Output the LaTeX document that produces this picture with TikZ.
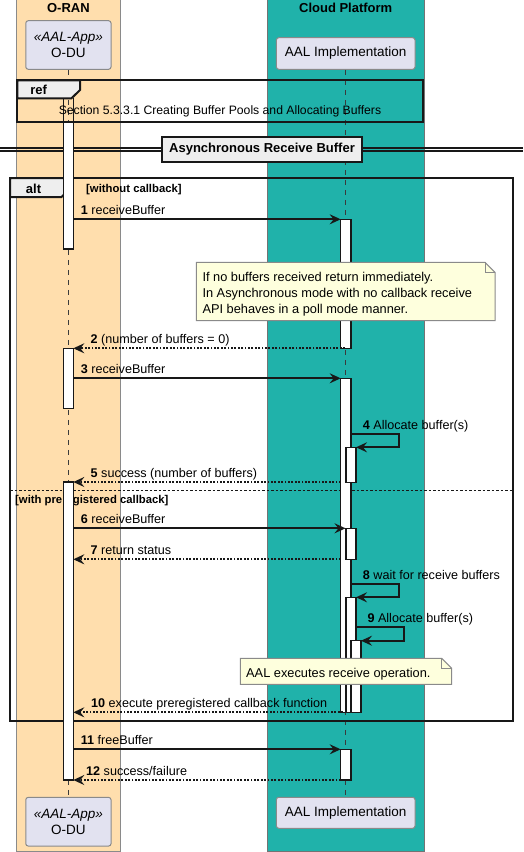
\documentclass[tikz,border=0pt]{standalone}
\usepackage{fontspec}
\setmainfont{Liberation Sans}
\usetikzlibrary{arrows.meta}
\definecolor{peach}{HTML}{FFDEAD}
\definecolor{seagreen}{HTML}{20B2AA}
\definecolor{partfill}{HTML}{E2E2F0}
\definecolor{notefill}{HTML}{FEFFDD}
\definecolor{tabfill}{HTML}{EEEEEE}
\definecolor{ink}{HTML}{181818}
\definecolor{edge}{HTML}{8A8A8A}
\tikzset{
  msg/.style={draw=ink, line width=1.9pt, -{Stealth[length=11pt,width=10pt,inset=4pt]}},
  ret/.style={msg, dash pattern=on 1.8pt off 1.6pt},
  lbl/.style={anchor=base west, inner sep=0pt, font=\fontsize{12.6}{15}\selectfont},
  bar/.style={draw=ink, fill=white, line width=1.3pt},
  life/.style={draw=ink!85, line width=0.8pt, dash pattern=on 5pt off 5pt},
  grouptitle/.style={anchor=base, inner sep=0pt, font=\fontsize{13}{15}\selectfont\bfseries},
  part/.style={draw=edge, fill=partfill, line width=1pt, rounded corners=2.5pt, align=center, inner sep=0pt, font=\fontsize{13.5}{15.5}\selectfont},
  notebox/.style={draw=edge, fill=notefill, line width=1pt},
  notetext/.style={anchor=base west, inner sep=0pt, font=\fontsize{12.8}{16.2}\selectfont},
  frame/.style={draw=ink, line width=2pt},
  tab/.style={draw=ink, fill=tabfill, line width=2pt},
  tabtext/.style={anchor=base, inner sep=0pt, font=\fontsize{13}{15}\selectfont\bfseries},
  guard/.style={anchor=base west, inner sep=0pt, font=\fontsize{11.3}{13}\selectfont\bfseries},
}
\newcommand{\mlabel}[2]{\textbf{#1} #2}
\begin{document}
\begin{tikzpicture}[x=1pt,y=-1pt]
\useasboundingbox (0,0) rectangle (523,852);
% ---- group boxes
\fill[peach] (16.7,0) rectangle (120,851.5);
\draw[edge, line width=1pt] (16.7,-2) -- (16.7,851.5) -- (120,851.5) -- (120,-2);
\fill[seagreen] (267,0) rectangle (424,851.5);
\draw[black!55, line width=1pt] (267,-2) -- (267,851.5) -- (424,851.5) -- (424,-2);
\node[grouptitle] (oran) at (68.4,12.7) {O-RAN};
\node[grouptitle] (cloud) at (345.7,12.7) {Cloud Platform};
% ---- participants
\node[part, minimum width=85.3pt, minimum height=48.6pt] (odu) at (68.4,45) {\textit{«AAL-App»}\\O-DU};
\node[part, minimum width=138.7pt, minimum height=31.6pt] (aal) at (345.7,53.5) {AAL Implementation};
\node[part, minimum width=85.3pt, minimum height=48.7pt] (odub) at (68.4,821.7) {\textit{«AAL-App»}\\O-DU};
\node[part, minimum width=138.7pt, minimum height=31pt] (aalb) at (345.7,812.8) {AAL Implementation};
% ---- lifelines
\draw[life] (odu.south) -- (odub.north);
\draw[life] (aal.south) -- (aalb.north);
% ---- ref frame
\draw[ink, line width=1.3pt] (63.3,98) -- (63.3,122.3) (73.3,98) -- (73.3,122.3);
\draw[frame] (17.3,80.3) rectangle (423.3,122.3);
\draw[tab] (17.3,80.3) -- (80,80.3) -- (80,90) -- (71.5,98.3) -- (17.3,98.3) -- cycle;
\node[tabtext] (reftag) at (38.7,94) {ref};
\node[anchor=base, inner sep=0pt, font=\fontsize{12.2}{15}\selectfont] (reftext) at (220,114.5) {Section 5.3.3.1 Creating Buffer Pools and Allocating Buffers};
% ---- divider
\draw[ink, line width=1.1pt] (0,148) -- (523,148) (0,151) -- (523,151);
\node[draw=ink, fill=tabfill, line width=2pt, minimum width=199.4pt, minimum height=24.4pt, inner sep=0pt, font=\fontsize{13}{15}\selectfont\bfseries] (divider) at (262,149.5) {Asynchronous Receive Buffer};
% ---- alt frame
\draw[frame] (10,178) rectangle (513.3,720.7);
\draw[tab] (10,178) -- (71.7,178) -- (71.7,187) -- (61.5,197) -- (10,197) -- cycle;
\node[tabtext] (alttag) at (33.5,193) {alt};
\node[guard] (g1) at (86,192.5) {[without callback]};
\draw[ink, line width=1.1pt, dash pattern=on 2.5pt off 2pt] (10,490.7) -- (513.3,490.7);
\node[guard] (g2) at (15,503) {[with preregistered callback]};
% ---- activation bars O-DU
\draw[bar] (63.3,122.3) rectangle (73.3,249);
\draw[bar] (63.3,348.3) rectangle (73.3,408.3);
\draw[bar] (63.3,482) rectangle (73.3,780);
% ---- activation bars AAL
\draw[bar] (340.7,219.3) rectangle (351,348.3);
\draw[bar] (340.7,378.3) rectangle (351,712.3);
\draw[bar] (346,447.3) rectangle (356,482.3);
\draw[bar] (346,528.3) rectangle (356,559.3);
\draw[bar] (346,597.3) rectangle (356,712.3);
\draw[bar] (351,640.7) rectangle (361,712.3);
\draw[bar] (340.7,749.3) rectangle (351,780);
% ---- notes
\draw[notebox] (196.3,262.3) -- (485,262.3) -- (495,272.3) -- (495,320.7) -- (196.3,320.7) -- cycle;
\draw[edge, line width=1pt] (485,262.3) -- (485,272.3) -- (495,272.3);
\node[notetext] (note1a) at (202.3,281.5) {If no buffers received return immediately.};
\node[notetext] (note1b) at (202.3,297.5) {In Asynchronous mode with no callback receive};
\node[notetext] (note1c) at (202.3,313.7) {API behaves in a poll mode manner.};
\draw[notebox] (240.3,658.3) -- (441.7,658.3) -- (451.7,668.3) -- (451.7,684.3) -- (240.3,684.3) -- cycle;
\draw[edge, line width=1pt] (441.7,658.3) -- (441.7,668.3) -- (451.7,668.3);
\node[notetext] (note2) at (246,677.3) {AAL executes receive operation.};
% ---- messages
\coordinate (m1s) at (73.3,219.3);  \coordinate (m1e) at (340.7,219.3);
\coordinate (m2s) at (345,348.3);   \coordinate (m2e) at (73.3,348.3);
\coordinate (m3s) at (73.3,378.3);  \coordinate (m3e) at (340.7,378.3);
\coordinate (m4s) at (351,434);     \coordinate (m4e) at (356,447.3);
\coordinate (m5s) at (340.7,482);   \coordinate (m5e) at (73.3,482);
\coordinate (m6s) at (73.3,528.3);  \coordinate (m6e) at (345.5,528.3);
\coordinate (m7s) at (340.7,559.3); \coordinate (m7e) at (73.3,559.3);
\coordinate (m8s) at (351,584.3);   \coordinate (m8e) at (356,597.3);
\coordinate (m9s) at (356,627.3);   \coordinate (m9e) at (361,640.7);
\coordinate (m10s) at (343,712.3);  \coordinate (m10e) at (73.3,712.3);
\coordinate (m11s) at (73.3,749.3); \coordinate (m11e) at (340.7,749.3);
\coordinate (m12s) at (340.7,780);  \coordinate (m12e) at (73.3,780);
\draw[msg] (m1s) -- (m1e);
\draw[ret] (m2s) -- (m2e);
\draw[msg] (m3s) -- (m3e);
\draw[msg] (m4s) -- (399,434) |- (m4e);
\draw[ret] (m5s) -- (m5e);
\draw[msg] (m6s) -- (m6e);
\draw[ret] (m7s) -- (m7e);
\draw[msg] (m8s) -- (399,584.3) |- (m8e);
\draw[msg] (m9s) -- (403.7,627.3) |- (m9e);
\draw[ret] (m10s) -- (m10e);
\draw[msg] (m11s) -- (m11e);
\draw[ret] (m12s) -- (m12e);
% ---- message labels
\node[lbl] (l1) at (80.7,214.3) {\mlabel{1}{receiveBuffer}};
\node[lbl] (l2) at (90.5,343.3) {\mlabel{2}{(number of buffers = 0)}};
\node[lbl] (l3) at (80.7,373.3) {\mlabel{3}{receiveBuffer}};
\node[lbl] (l4) at (362.7,429) {\mlabel{4}{Allocate buffer(s)}};
\node[lbl] (l5) at (90.5,477) {\mlabel{5}{success (number of buffers)}};
\node[lbl] (l6) at (80.7,523.3) {\mlabel{6}{receiveBuffer}};
\node[lbl] (l7) at (90.5,554.3) {\mlabel{7}{return status}};
\node[lbl] (l8) at (362.7,579.3) {\mlabel{8}{wait for receive buffers}};
\node[lbl] (l9) at (367.3,622.3) {\mlabel{9}{Allocate buffer(s)}};
\node[lbl] (l10) at (91,707.3) {\mlabel{10}{execute preregistered callback function}};
\node[lbl] (l11) at (80.7,744.3) {\mlabel{11}{freeBuffer}};
\node[lbl] (l12) at (86,775) {\mlabel{12}{success/failure}};
\end{tikzpicture}
\end{document}
